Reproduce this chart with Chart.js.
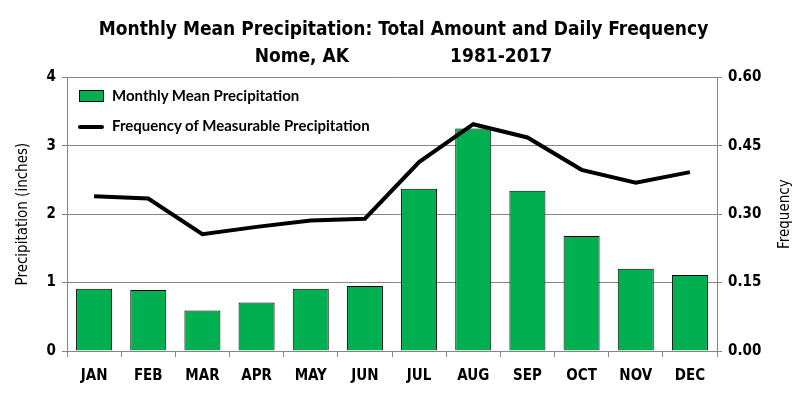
<!DOCTYPE html>
<html>
<head>
<meta charset="utf-8">
<script src="https://cdn.jsdelivr.net/npm/chart.js@4"></script>
<style>
  body { margin: 0; background: #fff; }
  #wrap { position: relative; width: 807px; height: 396px; }
  #legend { position: absolute; left: 0; top: 0; font-family: Lato, "Open Sans", sans-serif; font-size: 15px; font-weight: bold; color: #000; }
  .item { position: absolute; white-space: nowrap; }
  .box { position: absolute; width: 23px; height: 10px; background: #00B050; border: 1px solid #000; }
  .ln { position: absolute; width: 26px; height: 4px; background: #000; border-radius: 2px; }
</style>
</head>
<body>
<div id="wrap">
  <canvas id="chart" width="807" height="396"></canvas>
  <div id="legend">
    <div class="box" style="left:79px; top:90px;"></div>
    <div class="item" style="left:112px; top:86px;">Monthly Mean Precipitation</div>
    <div class="ln" style="left:78px; top:125px;"></div>
    <div class="item" style="left:112px; top:116px;">Frequency of Measurable Precipitation</div>
  </div>
</div>
<script>
// 데이터
var months = ['JAN', 'FEB', 'MAR', 'APR', 'MAY', 'JUN', 'JUL', 'AUG', 'SEP', 'OCT', 'NOV', 'DEC'];
var precipInches = [0.91, 0.89, 0.59, 0.71, 0.91, 0.95, 2.37, 3.25, 2.34, 1.68, 1.20, 1.11];
var frequency = [0.339, 0.334, 0.256, 0.272, 0.286, 0.290, 0.414, 0.497, 0.468, 0.397, 0.369, 0.392];
var titleLines = ['Monthly Mean Precipitation: Total Amount and Daily Frequency', 'Nome, AK                 1981-2017'];

var narrow = '"Liberation Sans Narrow", "DejaVu Sans Condensed", sans-serif';
var gridGray = '#868686';

// 오른쪽 축 제목 (아래에서 위로 읽히게)
var rightTitle = {
    id: 'rightTitle',
    afterDraw: function(chart) {
        var c = chart.ctx;
        var area = chart.chartArea;
        c.save();
        c.translate(785, (area.top + area.bottom) / 2);
        c.rotate(-Math.PI / 2);
        c.font = '15px ' + narrow;
        c.fillStyle = '#000';
        c.textAlign = 'center';
        c.textBaseline = 'middle';
        c.fillText('Frequency', 0, 0);
        c.restore();
    }
};

document.addEventListener('DOMContentLoaded', function() {
    var ctx = document.getElementById('chart').getContext('2d');
    new Chart(ctx, {
        data: {
            labels: months,
            datasets: [{
                type: 'line',
                label: 'Frequency of Measurable Precipitation',
                data: frequency,
                yAxisID: 'y2',
                borderColor: '#000',
                borderWidth: 4,
                pointRadius: 0,
                tension: 0,
                order: 0
            }, {
                type: 'bar',
                label: 'Monthly Mean Precipitation',
                data: precipInches,
                yAxisID: 'y',
                backgroundColor: '#00B050',
                borderColor: '#000',
                borderWidth: 1,
                barPercentage: 0.665,
                categoryPercentage: 1,
                order: 1
            }]
        },
        plugins: [rightTitle],
        options: {
            responsive: false,
            animation: false,
            layout: { padding: { left: 10, right: 10, top: 0, bottom: 6 } },
            plugins: {
                legend: { display: false },
                tooltip: { enabled: false },
                title: {
                    display: true,
                    text: titleLines,
                    color: '#000',
                    font: { family: narrow, size: 19, weight: 'bold', lineHeight: 1.4 },
                    padding: { top: 17, bottom: 7 }
                }
            },
            scales: {
                x: {
                    grid: { offset: true, drawOnChartArea: false, tickLength: 6, color: gridGray },
                    border: { color: gridGray },
                    ticks: { color: '#000', font: { family: narrow, size: 15, weight: 'bold' }, padding: 10 },
                    afterFit: function(scale) { scale.height = 39; }
                },
                y: {
                    position: 'left',
                    min: 0, max: 4,
                    ticks: { stepSize: 1, color: '#000', font: { family: narrow, size: 15, weight: 'bold' }, padding: 6 },
                    grid: { color: gridGray, tickLength: 5 },
                    border: { color: gridGray },
                    title: { display: true, text: 'Precipitation (inches)', color: '#000', font: { family: narrow, size: 15 }, padding: 4 },
                    afterFit: function(scale) { scale.width = 57; }
                },
                y2: {
                    position: 'right',
                    min: 0, max: 0.6,
                    ticks: {
                        stepSize: 0.15, color: '#000', font: { family: narrow, size: 15, weight: 'bold' }, padding: 6,
                        callback: function(v) { return v.toFixed(2); }
                    },
                    grid: { drawOnChartArea: false, color: gridGray, tickLength: 5 },
                    border: { color: gridGray },
                    afterFit: function(scale) { scale.width = 80; }
                }
            }
        }
    });
});
</script>
</body>
</html>
